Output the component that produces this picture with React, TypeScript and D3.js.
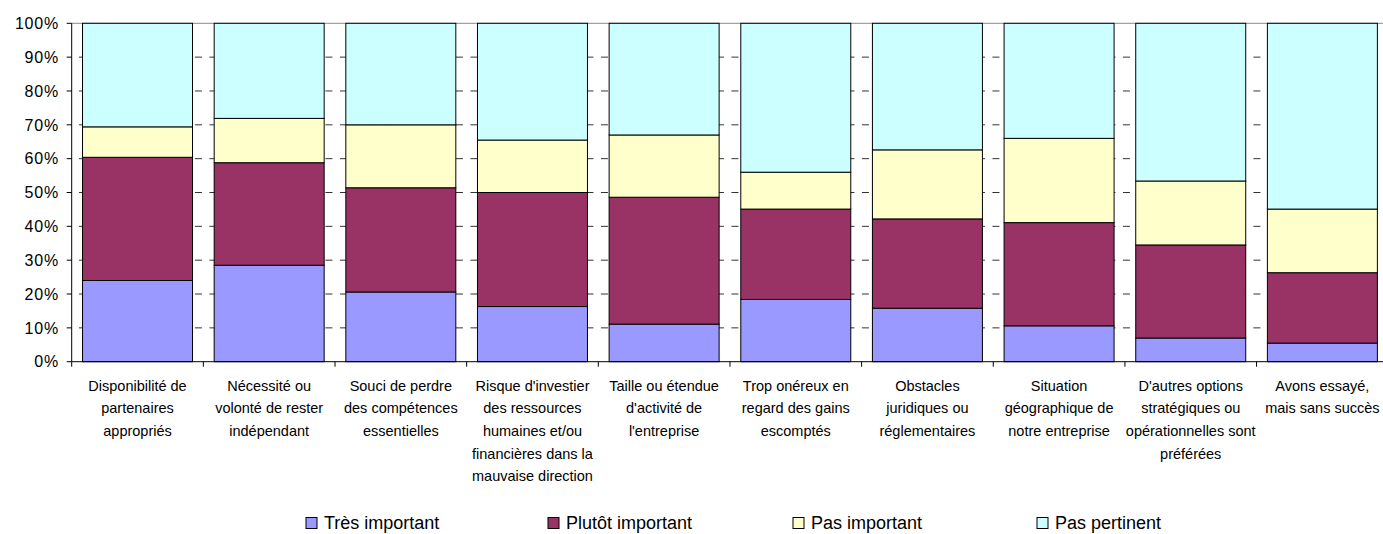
import React from "react";
import * as d3 from "d3";

// Categories (each entry = wrapped label lines)
const categories: string[][] = [
  ["Disponibilité de", "partenaires", "appropriés"],
  ["Nécessité ou", "volonté de rester", "indépendant"],
  ["Souci de perdre", "des compétences", "essentielles"],
  ["Risque d'investier", "des ressources", "humaines et/ou", "financières dans la", "mauvaise direction"],
  ["Taille ou étendue", "d'activité de", "l'entreprise"],
  ["Trop onéreux en", "regard des gains", "escomptés"],
  ["Obstacles", "juridiques ou", "réglementaires"],
  ["Situation", "géographique de", "notre entreprise"],
  ["D'autres options", "stratégiques ou", "opérationnelles sont", "préférées"],
  ["Avons essayé,", "mais sans succès"],
];

const seriesNames = ["Très important", "Plutôt important", "Pas important", "Pas pertinent"];

// Shares in percent, per category
const tresImportant = [24.0, 28.5, 20.6, 16.3, 11.1, 18.4, 15.8, 10.6, 7.0, 5.5];
const plutotImportant = [36.4, 30.3, 30.8, 33.7, 37.5, 26.7, 26.4, 30.5, 27.5, 20.8];
const pasImportant = [9.0, 13.1, 18.6, 15.5, 18.4, 10.9, 20.4, 24.9, 18.9, 18.8];
const pasPertinent = [30.6, 28.1, 30.0, 34.5, 33.0, 44.0, 37.4, 34.0, 46.6, 54.9];

const seriesColors = ["#9999FF", "#993366", "#FFFFCC", "#CCFFFF"];

const yTickValues = [0, 10, 20, 30, 40, 50, 60, 70, 80, 90, 100];

const W = 1383;
const H = 534;
const left = 71.7;
const right = 1388.2;
const top = 23.3;
const bottom = 361.7;

export default function App() {
  const seriesValues = [tresImportant, plutotImportant, pasImportant, pasPertinent];
  const table = categories.map((_, i) => {
    const row: Record<string, number> = { index: i };
    seriesNames.forEach((s, k) => (row[s] = seriesValues[k][i]));
    return row;
  });
  const stacked = d3.stack<Record<string, number>>().keys(seriesNames)(table);

  const x = d3
    .scaleBand<number>()
    .domain(categories.map((_, i) => i))
    .range([left, right])
    .paddingInner(0.1645)
    .paddingOuter(0.0822);
  const y = d3.scaleLinear().domain([0, 100]).range([bottom, top]);
  const step = x.step();
  const bandStart = (i: number) => left + i * step;

  const legendX = [306, 548, 793, 1037];

  return (
    <svg
      width={W}
      height={H}
      style={{ position: "absolute", left: 0, top: 0, background: "#fff" }}
      fontFamily="'Liberation Sans', Arial, sans-serif"
    >
      {/* gridlines */}
      {yTickValues
        .filter((t) => t > 0)
        .map((t) => (
          <line
            key={"g" + t}
            x1={left}
            x2={right}
            y1={y(t)}
            y2={y(t)}
            stroke={t === 100 ? "#8a8a8a" : "#333"}
            strokeWidth={1}
            strokeDasharray={t === 100 ? undefined : "7 7.5"}
            strokeDashoffset={7.25}
          />
        ))}

      {/* stacked bars */}
      {stacked.map((layer, k) => (
        <g key={seriesNames[k]}>
          {layer.map((d, i) => (
            <rect
              key={i}
              x={x(i)}
              y={y(d[1])}
              width={x.bandwidth()}
              height={y(d[0]) - y(d[1])}
              fill={seriesColors[k]}
              stroke="#000"
              strokeWidth={1}
            />
          ))}
        </g>
      ))}

      {/* y axis */}
      <line x1={left} x2={left} y1={top} y2={bottom} stroke="#000" />
      {yTickValues.map((t) => (
        <g key={"yt" + t}>
          <line x1={left - 5} x2={left} y1={y(t)} y2={y(t)} stroke="#000" />
          <text
            x={59}
            y={y(t)}
            dy="0.36em"
            textAnchor="end"
            fontSize={16}
            letterSpacing={0.8}
            fill="#000"
          >
            {t + "%"}
          </text>
        </g>
      ))}

      {/* x axis */}
      <line x1={left} x2={right} y1={bottom} y2={bottom} stroke="#000" />
      {categories.map((_, i) => (
        <line
          key={"xt" + i}
          x1={bandStart(i)}
          x2={bandStart(i)}
          y1={bottom}
          y2={bottom + 5}
          stroke="#000"
        />
      ))}
      {categories.map((lines, i) => (
        <text
          key={"xl" + i}
          textAnchor="middle"
          fontSize={14.5}
          fontFamily="'Liberation Sans Narrow', 'Arial Narrow', 'Liberation Sans', Arial, sans-serif"
          fill="#000"
        >
          {lines.map((ln, j) => (
            <tspan key={j} x={(x(i) as number) + x.bandwidth() / 2} y={390.5 + j * 22.7}>
              {ln}
            </tspan>
          ))}
        </text>
      ))}

      {/* legend */}
      {seriesNames.map((s, k) => (
        <g key={"lg" + k}>
          <rect
            x={legendX[k]}
            y={517.5}
            width={11}
            height={11}
            fill={seriesColors[k]}
            stroke="#000"
            strokeWidth={1}
          />
          <text x={legendX[k] + 18} y={529} fontSize={18} fill="#000">
            {s}
          </text>
        </g>
      ))}
    </svg>
  );
}
